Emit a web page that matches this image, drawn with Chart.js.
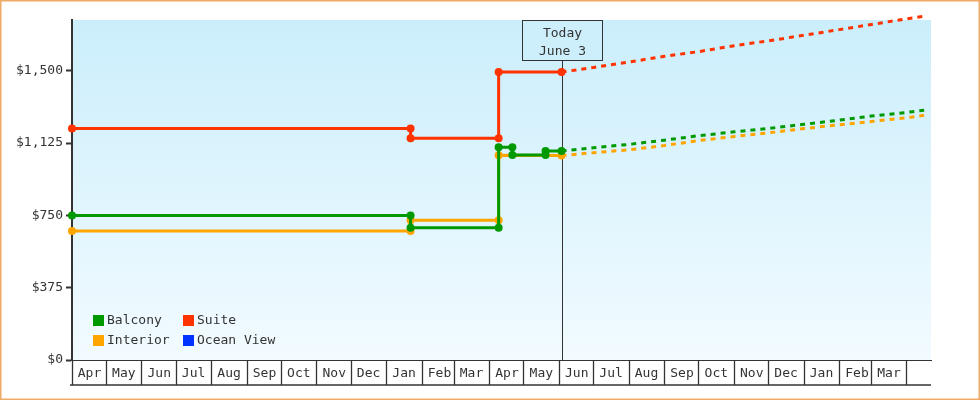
<!DOCTYPE html>
<html>
<head>
<meta charset="utf-8">
<script src="https://cdn.jsdelivr.net/npm/chart.js@4.4.1/dist/chart.umd.min.js"></script>
<style>
  html, body { margin: 0; padding: 0; background: #fff; }
  #wrap { width: 980px; height: 400px; position: relative; }
</style>
</head>
<body>
<div id="wrap"><canvas id="priceChart"></canvas></div>
<script>
// axis setup
const startDate = '2024-04-01';
const endDate = '2026-04-22';
const todayDate = '2025-06-03';
const todayLabel = ['Today', 'June 3'];
const monthLabels = ['Apr', 'May', 'Jun', 'Jul', 'Aug', 'Sep', 'Oct', 'Nov', 'Dec', 'Jan', 'Feb', 'Mar',
                     'Apr', 'May', 'Jun', 'Jul', 'Aug', 'Sep', 'Oct', 'Nov', 'Dec', 'Jan', 'Feb', 'Mar'];
const yTickValues = [0, 375, 750, 1125, 1500];

// legend
const seriesNames = ['Balcony', 'Suite', 'Interior', 'Ocean View'];
const seriesColors = ['#009900', '#ff3300', '#ffa500', '#0033ff'];

// price history (steps)
const balconyDates = ['2024-04-01', '2025-01-22', '2025-01-22', '2025-04-09', '2025-04-09', '2025-04-21',
                      '2025-04-21', '2025-05-20', '2025-05-20', '2025-06-03'];
const balconyPrices = [749, 749, 686, 686, 1103, 1103, 1063, 1063, 1084, 1084];
const interiorDates = ['2024-04-01', '2025-01-22', '2025-01-22', '2025-04-09', '2025-04-09', '2025-06-03'];
const interiorPrices = [669, 669, 724, 724, 1062, 1060];
const suiteDates = ['2024-04-01', '2025-01-22', '2025-01-22', '2025-04-09', '2025-04-09', '2025-06-03'];
const suitePrices = [1201, 1201, 1150, 1150, 1493, 1493];
const oceanViewDates = [];
const oceanViewPrices = [];

// forecast (dashed)
const forecastDates = ['2025-06-03', '2025-07-01', '2025-08-01', '2025-09-01', '2025-10-01', '2025-11-01',
                       '2025-12-01', '2026-01-01', '2026-02-01', '2026-03-01', '2026-04-01', '2026-04-16'];
const balconyForecast = [1084, 1101, 1118, 1140, 1163, 1183, 1201, 1222, 1244, 1265, 1284, 1295];
const interiorForecast = [1060, 1075, 1090, 1112, 1138, 1159, 1178, 1200, 1220, 1237, 1256, 1269];
const suiteForecast = [1493, 1517, 1545, 1575, 1599, 1630, 1655, 1684, 1713, 1740, 1769, 1782];

const FONT = '"DejaVu Sans Mono", monospace';
const INK = '#333333';

function dayOf(s) {
    return (Date.parse(s) - Date.parse(startDate)) / 86400000;
}

function points(dates, values) {
    return dates.map((d, i) => ({ x: dayOf(d), y: values[i] }));
}

// first day of every month on the axis
const monthStarts = [];
for (let i = 0; i <= monthLabels.length; i++) {
    const s = new Date(Date.parse(startDate));
    s.setUTCMonth(s.getUTCMonth() + i);
    monthStarts.push(dayOf(s.toISOString().slice(0, 10)));
}

function historySet(label, color, dates, values) {
    return {
        label: label,
        data: points(dates, values),
        borderColor: color,
        backgroundColor: color,
        borderWidth: 3,
        pointRadius: 4,
        pointHoverRadius: 4,
        pointBorderWidth: 0,
        tension: 0,
        clip: false
    };
}

function forecastSet(label, color, values) {
    return {
        label: label,
        data: points(forecastDates, values),
        borderColor: color,
        backgroundColor: color,
        borderWidth: 3,
        borderDash: [5, 5],
        pointRadius: 0,
        tension: 0,
        clip: false
    };
}

// background gradient, frame and bottom line of the month boxes
const framePlugin = {
    id: 'frame',
    beforeDraw(chart) {
        const { ctx, chartArea: a } = chart;
        ctx.save();
        const g = ctx.createLinearGradient(0, a.top, 0, a.bottom);
        g.addColorStop(0, '#cbeefc');
        g.addColorStop(1, '#f2fbff');
        ctx.fillStyle = g;
        ctx.fillRect(a.left, a.top, a.right - a.left, a.bottom - a.top);
        ctx.restore();
    },
    afterDraw(chart) {
        const { ctx, chartArea: a } = chart;
        const xs = chart.scales.x;
        ctx.save();
        ctx.strokeStyle = INK;
        ctx.lineWidth = 1.5;
        ctx.beginPath();
        ctx.moveTo(a.left - 2, xs.bottom);
        ctx.lineTo(a.right, xs.bottom);
        ctx.stroke();
        ctx.strokeStyle = '#eeaa66';
        ctx.lineWidth = 1.5;
        ctx.strokeRect(0.75, 0.75, chart.width - 1.5, chart.height - 1.5);
        ctx.restore();
    }
};

// "Today" marker
const todayPlugin = {
    id: 'today',
    beforeDatasetsDraw(chart) {
        const { ctx, chartArea: a } = chart;
        const x = Math.round(chart.scales.x.getPixelForValue(dayOf(todayDate))) + 0.5;
        const boxW = 80, boxH = 40;
        ctx.save();
        ctx.strokeStyle = INK;
        ctx.lineWidth = 1;
        ctx.beginPath();
        ctx.moveTo(x, a.top + boxH);
        ctx.lineTo(x, a.bottom);
        ctx.stroke();
        ctx.fillStyle = '#cdeffc';
        ctx.fillRect(x - boxW / 2, a.top + 0.5, boxW, boxH);
        ctx.strokeRect(x - boxW / 2, a.top + 0.5, boxW, boxH);
        ctx.fillStyle = INK;
        ctx.font = '13px ' + FONT;
        ctx.textAlign = 'center';
        ctx.textBaseline = 'middle';
        ctx.fillText(todayLabel[0], x, a.top + 13.5);
        ctx.fillText(todayLabel[1], x, a.top + 31.5);
        ctx.restore();
    }
};

// legend inside the plot, two columns
const legendPlugin = {
    id: 'innerLegend',
    afterDatasetsDraw(chart) {
        const { ctx, chartArea: a } = chart;
        ctx.save();
        ctx.font = '13px ' + FONT;
        ctx.textAlign = 'left';
        ctx.textBaseline = 'middle';
        seriesNames.forEach((name, i) => {
            const x = a.left + 21 + (i % 2) * 90;
            const y = a.bottom - 45 + Math.floor(i / 2) * 20;
            ctx.fillStyle = seriesColors[i];
            ctx.fillRect(x, y, 11, 11);
            ctx.fillStyle = INK;
            ctx.fillText(name, x + 14, y + 6);
        });
        ctx.restore();
    }
};

Chart.defaults.font.family = FONT;
Chart.defaults.font.size = 13;
Chart.defaults.color = INK;

// first dataset in the list is drawn on top
const ctx = document.getElementById('priceChart').getContext('2d');
new Chart(ctx, {
    type: 'line',
    data: {
        datasets: [
            historySet('Suite', seriesColors[1], suiteDates, suitePrices),
            historySet('Balcony', seriesColors[0], balconyDates, balconyPrices),
            historySet('Interior', seriesColors[2], interiorDates, interiorPrices),
            historySet('Ocean View', seriesColors[3], oceanViewDates, oceanViewPrices),
            forecastSet('Suite forecast', seriesColors[1], suiteForecast),
            forecastSet('Balcony forecast', seriesColors[0], balconyForecast),
            forecastSet('Interior forecast', seriesColors[2], interiorForecast)
        ]
    },
    options: {
        responsive: true,
        maintainAspectRatio: false,
        animation: false,
        devicePixelRatio: 1,
        layout: { padding: { top: 20, right: 49, bottom: 15, left: 0 } },
        plugins: {
            legend: { display: false },
            tooltip: { enabled: false }
        },
        scales: {
            x: {
                type: 'linear',
                min: 0,
                max: dayOf(endDate),
                afterBuildTicks: scale => { scale.ticks = monthStarts.map(v => ({ value: v })); },
                afterFit: scale => { scale.height = 25; },
                grid: {
                    drawOnChartArea: false,
                    drawTicks: true,
                    tickLength: 25,
                    tickColor: INK,
                    tickWidth: 1.3
                },
                border: { display: true, color: INK, width: 1 },
                ticks: {
                    autoSkip: false,
                    maxRotation: 0,
                    minRotation: 0,
                    padding: -19,
                    labelOffset: 17.5,
                    color: INK,
                    callback: (v, i) => monthLabels[i] || ''
                }
            },
            y: {
                min: 0,
                max: 1763,
                afterBuildTicks: scale => { scale.ticks = yTickValues.map(v => ({ value: v })); },
                afterFit: scale => { scale.width = 72; },
                grid: {
                    drawOnChartArea: false,
                    drawTicks: true,
                    tickLength: 6,
                    tickColor: INK,
                    tickWidth: 2
                },
                border: { display: true, color: INK, width: 2 },
                ticks: {
                    padding: 3,
                    color: INK,
                    callback: v => '$' + v.toLocaleString('en-US')
                }
            }
        }
    },
    plugins: [framePlugin, todayPlugin, legendPlugin]
});
</script>
</body>
</html>
